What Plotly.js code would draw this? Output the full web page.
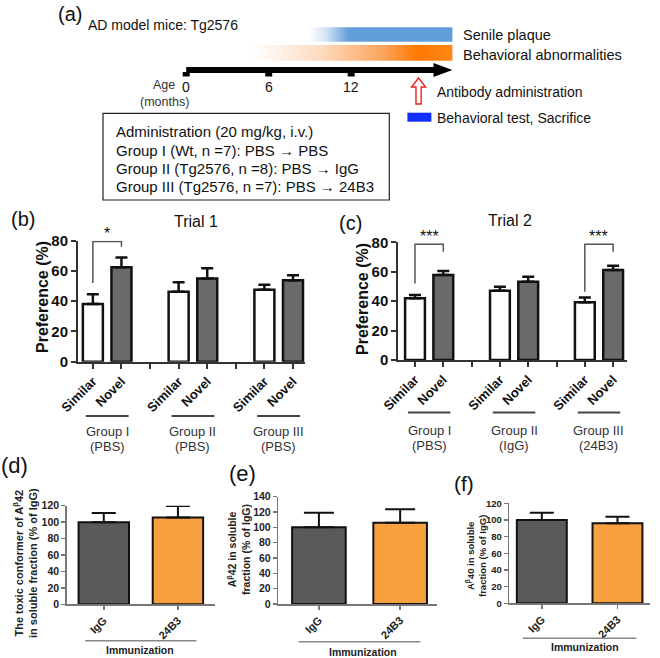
<!DOCTYPE html>
<html><head><meta charset="utf-8">
<script src="https://cdn.plot.ly/plotly-3.0.1.min.js"></script>
<style>html,body{margin:0;padding:0;background:#fff}#chart{width:660px;height:658px}</style>
</head><body><div id="chart"></div>
<script>
// ---------------- data ----------------
const groupNames = ['Group I', 'Group II', 'Group III'];
const trial1Treatment = ['(PBS)', '(PBS)', '(PBS)'];
const trial2Treatment = ['(PBS)', '(IgG)', '(24B3)'];
const objectLabels = ['Similar', 'Novel'];

const trial1Similar    = [38.2, 46.2, 47.5];
const trial1SimilarErr = [6.4, 6.3, 3.3];
const trial1Novel      = [62.5, 55.0, 53.9];
const trial1NovelErr   = [6.4, 6.8, 3.3];

const trial2Similar    = [41.9, 47.1, 39.2];
const trial2SimilarErr = [2.3, 2.7, 3.2];
const trial2Novel      = [57.8, 53.2, 61.2];
const trial2NovelErr   = [2.7, 3.4, 2.9];

// significance brackets: group index, label, leg ends and top (in % units)
const trial1SigGroups = [0];
const trial1SigLabels = ['*'];
const trial1SigLeft   = [52];
const trial1SigRight  = [76];
const trial1SigTop    = [79.5];
const trial2SigGroups = [0, 2];
const trial2SigLabels = ['***', '***'];
const trial2SigLeft   = [52, 46.4];
const trial2SigRight  = [73.6, 73.6];
const trial2SigTop    = [78.6, 78.6];

const immunization = ['IgG', '24B3'];
const toxicConformer    = [100, 105.6];
const toxicConformerErr = [11, 14];
const abeta42    = [100, 106];
const abeta42Err = [19, 17.5];
const abeta40    = [100, 96];
const abeta40Err = [8.8, 8];

// timeline (months of age)
const ageTicks = [0, 6, 12];
const plaqueOnset = 8.9;
const behaviorOnset = 4.8;
const timelineEnd = 19.36;
const antibodyAge = 16.9;
const adminLines = [
  'Administration (20 mg/kg, i.v.)',
  'Group I (Wt, n =7): PBS \u2192 PBS',
  'Group II (Tg2576, n =8): PBS \u2192 IgG',
  'Group III (Tg2576, n =7): PBS \u2192 24B3'
];

// ---------------- helpers ----------------
const W = 660, H = 658;
const px = v => v / W;
const py = v => 1 - v / H;
const FONT = 'Arial, "Liberation Sans", Helvetica, sans-serif';
const ann = [];
function txt(text, x, y, size, opts) {
  ann.push(Object.assign({
    text: text, x: px(x), y: py(y), xref: 'paper', yref: 'paper', showarrow: false,
    xanchor: 'center', yanchor: 'middle',
    font: {family: FONT, size: size, color: '#111'}
  }, opts || {}));
}
const shapes = [];

const traces = [];
// ---------------- trial panels ----------------
function trialPanel(sim, simErr, nov, novErr, xa, ya) {
  const xs = groupNames.map((_, g) => 3 * g);
  const xn = groupNames.map((_, g) => 3 * g + 1);
  traces.push({type: 'bar', x: xs, y: sim, width: 0.7, xaxis: xa, yaxis: ya,
    marker: {color: '#ffffff', line: {color: '#111', width: 2.5}},
    error_y: {type: 'data', symmetric: false, array: simErr, arrayminus: sim.map(() => 0),
      color: '#111', thickness: 2.5, width: 6}, hoverinfo: 'skip'});
  traces.push({type: 'bar', x: xn, y: nov, width: 0.7, xaxis: xa, yaxis: ya,
    marker: {color: '#6a6a6a', line: {color: '#111', width: 2.5}},
    error_y: {type: 'data', symmetric: false, array: novErr, arrayminus: nov.map(() => 0),
      color: '#111', thickness: 2.5, width: 6}, hoverinfo: 'skip'});
}
trialPanel(trial1Similar, trial1SimilarErr, trial1Novel, trial1NovelErr, 'x', 'y');
trialPanel(trial2Similar, trial2SimilarErr, trial2Novel, trial2NovelErr, 'x2', 'y2');

function sigBrackets(groups, labels, left, right, top, xa, ya) {
  groups.forEach((g, i) => {
    const a = 3 * g, b = 3 * g + 1;
    shapes.push({type: 'path', xref: xa, yref: ya,
      path: `M ${a},${left[i]} L ${a},${top[i]} L ${b},${top[i]} L ${b},${right[i]}`,
      line: {color: '#555', width: 1.5}});
    ann.push({text: labels[i], x: a + 0.5, y: top[i], xref: xa, yref: ya, showarrow: false,
      xanchor: 'center', yanchor: 'bottom', yshift: -3,
      font: {family: FONT, size: 16, color: '#111'}});
  });
}
sigBrackets(trial1SigGroups, trial1SigLabels, trial1SigLeft, trial1SigRight, trial1SigTop, 'x', 'y');
sigBrackets(trial2SigGroups, trial2SigLabels, trial2SigLeft, trial2SigRight, trial2SigTop, 'x2', 'y2');

function groupLabels(treat, xa, lineY, nameY, treatY) {
  groupNames.forEach((name, g) => {
    shapes.push({type: 'line', xref: xa, yref: 'paper', x0: 3 * g - 0.25, x1: 3 * g + 1.25,
      y0: py(lineY), y1: py(lineY), line: {color: '#444', width: 2}});
    ann.push({text: name, x: 3 * g + 0.5, y: py(nameY), xref: xa, yref: 'paper', showarrow: false,
      xanchor: 'center', yanchor: 'middle', font: {family: FONT, size: 13, color: '#333'}});
    ann.push({text: treat[g], x: 3 * g + 0.5, y: py(treatY), xref: xa, yref: 'paper', showarrow: false,
      xanchor: 'center', yanchor: 'middle', font: {family: FONT, size: 13, color: '#333'}});
  });
}
groupLabels(trial1Treatment, 'x', 416, 431.5, 446);
groupLabels(trial2Treatment, 'x2', 412.5, 430, 445);

// ---------------- immunization panels ----------------
const igColors = ['#5a5a5a', '#f7a03f'];
function immPanel(vals, errs, xa, ya, bw, cap, lineY) {
  traces.push({type: 'bar', x: immunization, y: vals, width: bw, xaxis: xa, yaxis: ya,
    marker: {color: igColors, line: {color: '#111', width: 2}},
    error_y: {type: 'data', symmetric: false, array: errs, arrayminus: vals.map(() => 0),
      color: '#111', thickness: 2, width: cap}, hoverinfo: 'skip'});
  shapes.push({type: 'line', xref: xa, yref: 'paper', x0: -0.25, x1: 1.25, y0: py(lineY), y1: py(lineY),
    line: {color: '#888', width: 1.5}});
}
immPanel(toxicConformer, toxicConformerErr, 'x3', 'y3', 0.68, 12, 640.7);
immPanel(abeta42, abeta42Err, 'x4', 'y4', 0.66, 15, 641.7);
immPanel(abeta40, abeta40Err, 'x5', 'y5', 0.66, 12, 638.3);

// ---------------- timeline ----------------
const PXM = 13.75; // px per month on the timeline axis
function gradBar(x0, x1, y0, y1, scale) {
  return {type: 'scatter', mode: 'lines', x: [x0, x1, x1, x0, x0], y: [y0, y0, y1, y1, y0],
    fill: 'toself', line: {width: 0, color: 'rgba(0,0,0,0)'},
    fillgradient: {type: 'horizontal', colorscale: scale, start: x0, stop: x1},
    xaxis: 'x6', yaxis: 'y6', hoverinfo: 'skip'};
}
traces.push(gradBar(plaqueOnset, timelineEnd, 27.3, 41.7,
  [[0, 'rgb(255,255,255)'], [0.12, 'rgb(212,228,245)'], [0.28, 'rgb(98,158,220)'], [1, 'rgb(98,158,220)']]));
traces.push(gradBar(behaviorOnset, timelineEnd, 45, 60.7,
  [[0, 'rgb(255,255,255)'], [0.35, 'rgb(253,218,190)'], [0.65, 'rgb(252,165,95)'], [0.83, 'rgb(255,120,0)'], [1, 'rgb(255,135,25)']]));

const headLen = 18.9 / PXM;
shapes.push({type: 'rect', xref: 'x6', yref: 'y6', x0: ageTicks[0], x1: timelineEnd - headLen + 0.05,
  y0: 67, y1: 73, fillcolor: '#000', line: {width: 0}});
shapes.push({type: 'path', xref: 'x6', yref: 'y6',
  path: `M ${timelineEnd - headLen},63 L ${timelineEnd},70 L ${timelineEnd - headLen},77 Z`,
  fillcolor: '#000', line: {width: 0}});
ageTicks.forEach(t => {
  shapes.push({type: 'rect', xref: 'x6', yref: 'y6', x0: t - 3.5 / PXM, x1: t + 3.5 / PXM,
    y0: 72, y1: 76.5, fillcolor: '#000', line: {width: 0}});
  ann.push({text: String(t), x: t, y: py(87), xref: 'x6', yref: 'paper', showarrow: false,
    xanchor: 'center', yanchor: 'middle', font: {family: FONT, size: 14, color: '#111'}});
});
{
  const c = antibodyAge, hw = 7 / PXM, sw = 2.6 / PXM;
  shapes.push({type: 'path', xref: 'x6', yref: 'y6',
    path: `M ${c},78 L ${c + hw},87 L ${c + sw},87 L ${c + sw},104 L ${c - sw},104 L ${c - sw},87 L ${c - hw},87 Z`,
    fillcolor: '#fff', line: {color: '#e8231f', width: 1.4}});
}
shapes.push({type: 'rect', xref: 'paper', yref: 'paper', x0: px(407.4), x1: px(431.4), y0: py(121.7), y1: py(112.7),
  fillcolor: 'rgb(18,48,250)', line: {width: 0}});
shapes.push({type: 'rect', xref: 'paper', yref: 'paper', x0: px(103), x1: px(389.3), y0: py(200), y1: py(113.3),
  fillcolor: 'rgba(0,0,0,0)', line: {color: '#222', width: 1.2}});

txt('(a)', 70, 14, 20);
txt('AD model mice: Tg2576', 86, 25, 14, {xanchor: 'left'});
txt('Senile plaque', 461, 35, 14.5, {xanchor: 'left'});
txt('Behavioral abnormalities', 461, 55.5, 14.5, {xanchor: 'left'});
txt('Antibody administration', 435, 92, 14, {xanchor: 'left'});
txt('Behavioral test, Sacrifice', 435, 117.5, 14, {xanchor: 'left'});
txt('Age', 177, 85, 12.5, {xanchor: 'right', font: {family: FONT, size: 12.5, color: '#333'}});
txt('(months)', 164, 101.5, 12.5, {font: {family: FONT, size: 12.5, color: '#333'}});
const adminY = [131.7, 150, 168.3, 186.7];
adminLines.forEach((l, i) => txt(l, 113.5, adminY[i], 15, {xanchor: 'left'}));

// panel labels and titles
txt('(b)', 22.5, 219.3, 20);
txt('Trial 1', 196, 221.7, 16);
txt('(c)', 350.5, 223, 20);
txt('Trial 2', 510, 220, 16);
txt('(d)', 14, 465, 22);
txt('(e)', 242.5, 473, 22);
txt('(f)', 464, 483, 21);
const boldT = (s, c) => ({family: FONT, size: s, color: c || '#111', weight: 'bold'});
txt('Preference (%)', 42, 297, 16, {textangle: -90, font: boldT(16)});
txt('Preference (%)', 362.5, 298.5, 16, {textangle: -90, font: boldT(16)});
txt('The toxic conformer of A<sup>\u03b2</sup>42<br>in soluble fraction (% of IgG)', 25, 563, 11, {textangle: -90, font: boldT(11, '#222')});
txt('A<sup>\u03b2</sup>42 in soluble<br>fraction (% of IgG)', 238, 550, 10.5, {textangle: -90, font: boldT(10.5, '#222')});
txt('A<sup>\u03b2</sup>40 in soluble<br>fraction (% of IgG)', 476, 556, 9.5, {textangle: -90, font: boldT(9.5, '#222')});
txt('Immunization', 140, 650, 10.5, {font: boldT(10.5, '#222')});
txt('Immunization', 363, 651.7, 10.5, {font: boldT(10.5, '#222')});
txt('Immunization', 585, 646.7, 10.5, {font: boldT(10.5, '#222')});

// ---------------- axes ----------------
const trialTickVals = [], trialTickText = [], trialGapVals = [];
groupNames.forEach((_, g) => {
  trialTickVals.push(3 * g, 3 * g + 1);
  trialTickText.push(objectLabels[0], objectLabels[1]);
  if (g < groupNames.length - 1) trialGapVals.push(3 * g + 2);
});
function trialX(d0, d1, range, anchor) {
  return {domain: [d0, d1], range: range, anchor: anchor, tickmode: 'array',
    tickvals: trialTickVals, ticktext: trialTickText, tickangle: -45,
    ticks: 'outside', ticklen: 5, tickwidth: 2, tickcolor: '#333',
    minor: {tickmode: 'array', tickvals: trialGapVals, ticks: 'outside', ticklen: 5, tickwidth: 2, tickcolor: '#333', showgrid: false},
    showline: true, linecolor: '#333', linewidth: 2, showgrid: false, zeroline: false,
    tickfont: {family: FONT, size: 13, color: '#111', weight: 'bold'}, fixedrange: true};
}
function trialY(d0, d1, anchor) {
  return {domain: [d0, d1], range: [0, 80], anchor: anchor, dtick: 20, tick0: 0,
    ticks: 'outside', ticklen: 5, tickwidth: 2, tickcolor: '#333',
    showline: true, linecolor: '#333', linewidth: 2, showgrid: false, zeroline: false,
    tickfont: {family: FONT, size: 15, color: '#111', weight: 'bold'}, fixedrange: true};
}
function immX(d0, d1, range, anchor) {
  return {domain: [d0, d1], range: range, anchor: anchor, type: 'category',
    categoryorder: 'array', categoryarray: immunization, tickangle: -45,
    ticks: 'outside', ticklen: 4, tickwidth: 1.5, tickcolor: '#777',
    showline: true, linecolor: '#777', linewidth: 1.5, showgrid: false, zeroline: false,
    tickfont: {family: FONT, size: 11, color: '#222', weight: 'bold'}, fixedrange: true};
}
function immY(d0, d1, range, anchor, fs) {
  return {domain: [d0, d1], range: range, anchor: anchor, dtick: 20, tick0: 0,
    ticks: 'outside', ticklen: 4, tickwidth: 1.5, tickcolor: '#777',
    showline: true, linecolor: '#777', linewidth: 1.5, showgrid: false, zeroline: false,
    tickfont: {family: FONT, size: fs, color: '#222', weight: 'bold'}, fixedrange: true};
}

const layout = {
  width: W, height: H, margin: {l: 0, r: 0, t: 0, b: 0},
  paper_bgcolor: '#ffffff', plot_bgcolor: 'rgba(0,0,0,0)',
  showlegend: false, barmode: 'overlay',
  font: {family: FONT, color: '#111'},
  xaxis: trialX(px(78), px(305), [-0.52, 7.42], 'y'),
  yaxis: trialY(py(361.7), py(240.7), 'x'),
  xaxis2: trialX(px(398.3), px(627), [-0.59, 7.49], 'y2'),
  yaxis2: trialY(py(360), py(242.3), 'x2'),
  xaxis3: immX(px(66.7), px(215), [-0.5, 1.5], 'y3'),
  yaxis3: immY(py(604.3), py(505.7), [0, 120], 'x3', 10.5),
  xaxis4: immX(px(278.3), px(436.7), [-0.5, 1.45], 'y4'),
  yaxis4: immY(py(604), py(496.7), [0, 140], 'x4', 10.5),
  xaxis5: immX(px(509.3), px(650), [-0.43, 1.43], 'y5'),
  yaxis5: immY(py(603.3), py(503.3), [0, 120], 'x5', 9.5),
  xaxis6: {domain: [0, 1], range: [-186.2 / PXM, (W - 186.2) / PXM], anchor: 'y6', visible: false, fixedrange: true},
  yaxis6: {domain: [py(210), 1], range: [210, 0], anchor: 'x6', visible: false, fixedrange: true},
  shapes: shapes,
  annotations: ann
};

Plotly.newPlot('chart', traces, layout, {displayModeBar: false, staticPlot: true});
</script>
</body></html>
